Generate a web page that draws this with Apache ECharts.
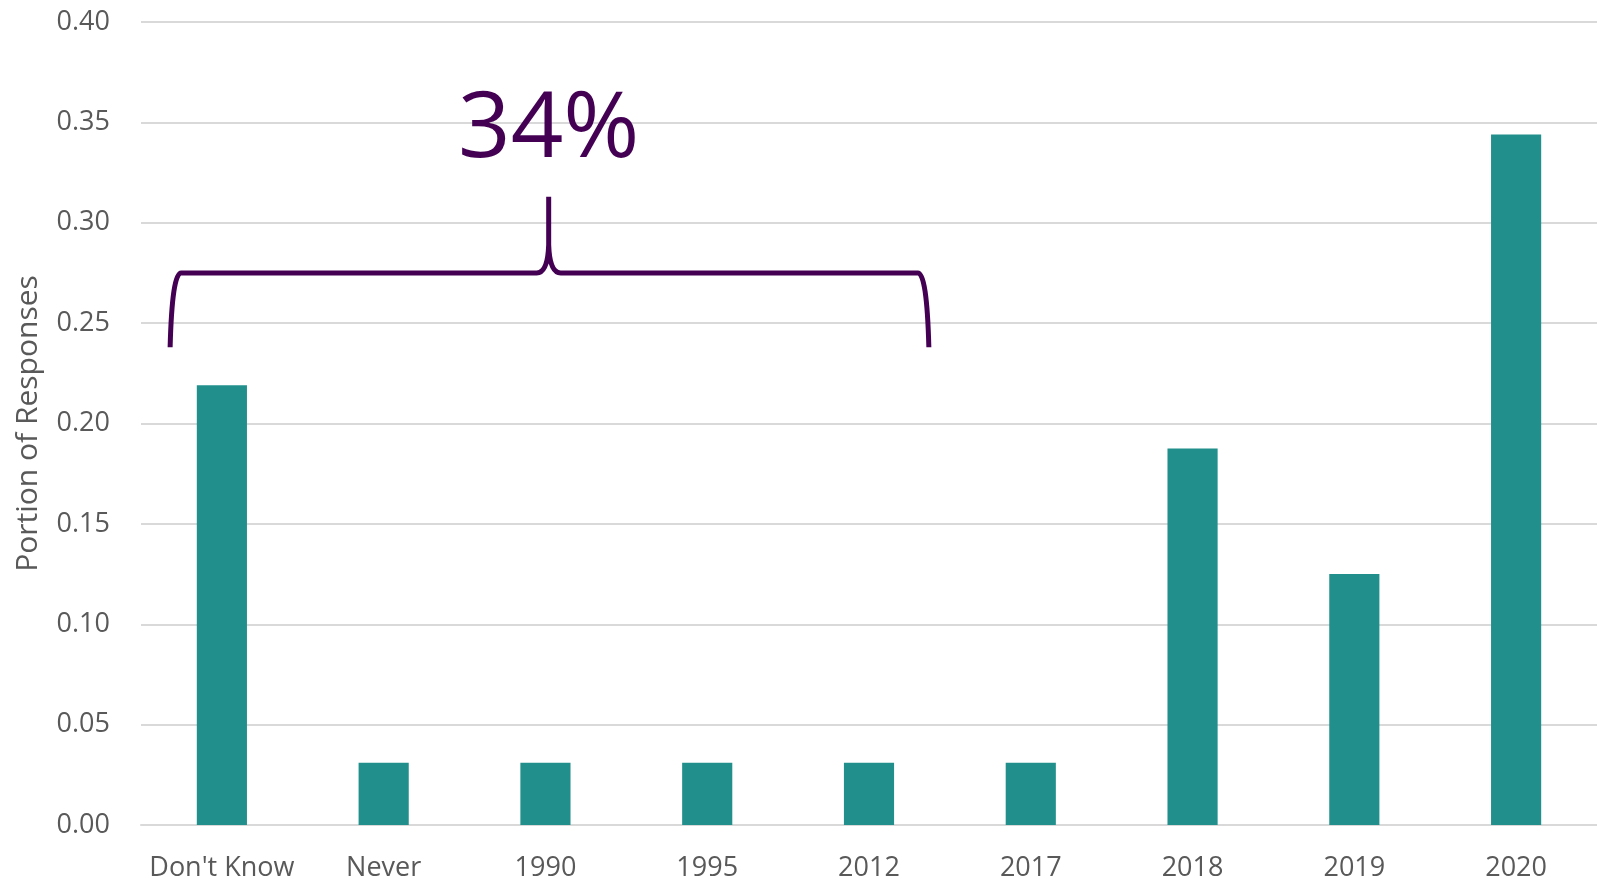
<!DOCTYPE html>
<html>
<head>
<meta charset="utf-8">
<script src="https://cdn.jsdelivr.net/npm/echarts@6/dist/echarts.min.js"></script>
<style>
html,body{margin:0;padding:0;background:#fff;}
#chart{width:1597px;height:882px;}
</style>
</head>
<body>
<div id="chart"></div>
<script>
const categories = ["Don't Know", "Never", "1990", "1995", "2012", "2017", "2018", "2019", "2020"];
const values = [0.219, 0.031, 0.031, 0.031, 0.031, 0.031, 0.1875, 0.125, 0.344];
const yTicks = [0, 0.05, 0.10, 0.15, 0.20, 0.25, 0.30, 0.35, 0.40];
// bracket annotation: spans categories (fractional offsets), heights in value units
const bracketLabel = ['34%'];
const bracketStart = [0, -0.32];   // [category index, offset in bands]
const bracketEnd = [4, 0.37];
const bracketMid = [2, 0.02];
const bracketLevels = [0.238, 0.275, 0.313, 0.346]; // ends, bar line, spike top, label

const chart = echarts.init(document.getElementById('chart'), null, {renderer: 'canvas'});
const textColor = '#595959';
const font = "'Open Sans', sans-serif";

function xAt(api, ref) {
  const c = api.coord([ref[0], 0])[0];
  const band = api.size([1, 0])[0];
  return c + ref[1] * band;
}

chart.setOption({
  animation: false,
  grid: {left: 141, right: 0, top: 22, bottom: 56, containLabel: false},
  xAxis: {
    type: 'category',
    data: categories,
    axisLine: {show: true, lineStyle: {color: '#d9d9d9', width: 2}},
    axisTick: {show: false},
    axisLabel: {color: textColor, fontFamily: font, fontSize: 27, margin: 30, interval: 0}
  },
  yAxis: {
    type: 'value',
    min: 0, max: 0.4, interval: 0.05,
    name: 'Portion of Responses',
    nameLocation: 'middle',
    nameGap: 98,
    nameTextStyle: {color: textColor, fontFamily: font, fontSize: 30},
    axisLine: {show: false},
    axisTick: {show: false},
    axisLabel: {
      color: textColor, fontFamily: font, fontSize: 27, margin: 31,
      formatter: v => v.toFixed(2)
    },
    splitLine: {lineStyle: {color: '#d9d9d9', width: 2}}
  },
  series: [
    {
      type: 'bar',
      data: values,
      barWidth: '31%',
      itemStyle: {color: '#21908c'}
    },
    {
      type: 'custom',
      data: [[0, 0]],
      silent: true,
      z: 5,
      renderItem: function (params, api) {
        const xL = xAt(api, bracketStart);
        const xR = xAt(api, bracketEnd);
        const xC = xAt(api, bracketMid);
        const yB = api.coord([0, bracketLevels[0]])[1];
        const yH = api.coord([0, bracketLevels[1]])[1];
        const yT = api.coord([0, bracketLevels[2]])[1];
        const yLab = api.coord([0, bracketLevels[3]])[1];
        const d =
          'M' + xL + ' ' + yB +
          ' Q' + (xL + 2) + ' ' + yH + ' ' + (xL + 11) + ' ' + yH +
          ' L' + (xC - 12) + ' ' + yH +
          ' Q' + (xC - 1) + ' ' + yH + ' ' + xC + ' ' + (yH - 28) +
          ' L' + xC + ' ' + yT +
          ' M' + xC + ' ' + (yH - 28) +
          ' Q' + (xC + 1) + ' ' + yH + ' ' + (xC + 12) + ' ' + yH +
          ' L' + (xR - 11) + ' ' + yH +
          ' Q' + (xR - 2) + ' ' + yH + ' ' + xR + ' ' + yB;
        return {
          type: 'group',
          children: [
            {
              type: 'path',
              shape: {pathData: d},
              style: {fill: null, stroke: '#440154', lineWidth: 5, lineJoin: 'round'}
            },
            {
              type: 'text',
              x: xC, y: yLab,
              style: {
                text: bracketLabel[0],
                fill: '#440154',
                font: "92px 'Open Sans', sans-serif",
                align: 'center',
                verticalAlign: 'middle'
              }
            }
          ]
        };
      }
    }
  ]
});
</script>
</body>
</html>
